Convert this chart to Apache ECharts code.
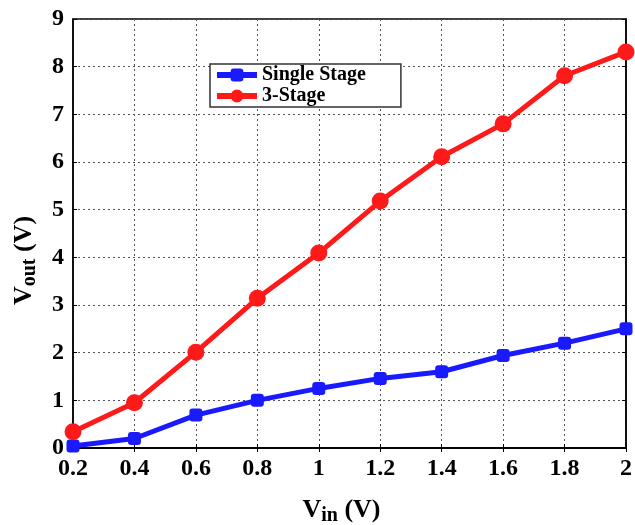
<!DOCTYPE html>
<html>
<head>
<meta charset="utf-8">
<script src="https://cdn.jsdelivr.net/npm/echarts@6/dist/echarts.min.js"></script>
<style>
  html, body { margin: 0; padding: 0; background: #fff; }
  #chart { width: 635px; height: 525px; }
</style>
</head>
<body>
<div id="chart"></div>
<script>
// Input voltage sweep (V)
const vin = ['0.2', '0.4', '0.6', '0.8', '1', '1.2', '1.4', '1.6', '1.8', '2'];
// Output voltage (V) for each converter
const singleStage = [0.04, 0.2, 0.69, 1.0, 1.25, 1.46, 1.6, 1.94, 2.2, 2.5];
const threeStage = [0.34, 0.95, 2.01, 3.14, 4.09, 5.18, 6.11, 6.8, 7.81, 8.31];
const yTicks = [0, 9, 1];

const serif = '"Liberation Serif", "DejaVu Serif", serif';
const tickFont = { fontFamily: serif, fontWeight: 'bold', fontSize: 24, color: '#000' };
const gridLine = { show: true, lineStyle: { type: [2, 3], color: '#555', width: 1 } };
const titleRich = {
  a: { fontFamily: serif, fontWeight: 'bold', fontSize: 26, color: '#000' },
  b: { fontFamily: serif, fontWeight: 'bold', fontSize: 20, color: '#000', padding: [12, 0, 0, 0] }
};

const chart = echarts.init(document.getElementById('chart'), null, { renderer: 'canvas' });
chart.setOption({
  animation: false,
  backgroundColor: '#fff',
  grid: {
    left: 73, right: 9, top: 19, bottom: 77,
    containLabel: false, outerBoundsMode: 'none',
    show: true, borderColor: '#000', borderWidth: 1.5
  },
  legend: {
    left: 210, top: 64,
    orient: 'vertical',
    itemWidth: 40, itemHeight: 16, itemGap: 1,
    padding: [1, 35, 1, 4],
    borderColor: '#333', borderWidth: 1.5,
    backgroundColor: '#fff',
    lineStyle: { width: 6 },
    textStyle: { fontFamily: serif, fontWeight: 'bold', fontSize: 20, color: '#000' },
    data: ['Single Stage', '3-Stage']
  },
  xAxis: [{
    type: 'category', data: vin, boundaryGap: false,
    axisLine: { lineStyle: { color: '#000', width: 1.5 } },
    axisTick: { inside: true, length: 4, lineStyle: { color: '#000' } },
    axisLabel: Object.assign({ margin: 9 }, tickFont),
    splitLine: gridLine,
    name: '{a|V}{b|in}{a| (V)}',
    nameLocation: 'middle', nameGap: 46,
    nameTextStyle: { rich: titleRich, padding: [0, 16, 0, 0] }
  }, {
    type: 'category', data: vin, boundaryGap: false, position: 'top',
    axisLine: { lineStyle: { color: '#000', width: 1.5 } },
    axisTick: { inside: true, length: 4, lineStyle: { color: '#000' } },
    axisLabel: { show: false }
  }],
  yAxis: [{
    type: 'value', min: yTicks[0], max: yTicks[1], interval: yTicks[2],
    axisLine: { show: true, lineStyle: { color: '#000', width: 1.5 } },
    axisTick: { show: true, inside: true, length: 4, lineStyle: { color: '#000' } },
    axisLabel: Object.assign({ margin: 9 }, tickFont),
    splitLine: gridLine,
    name: '{a|V}{b|out}{a| (V)}',
    nameLocation: 'middle', nameGap: 33, nameRotate: 90,
    nameTextStyle: { rich: titleRich, padding: [0, 54, 0, 0] }
  }, {
    type: 'value', min: yTicks[0], max: yTicks[1], interval: yTicks[2], position: 'right',
    axisLine: { show: true, lineStyle: { color: '#000', width: 1.5 } },
    axisTick: { show: true, inside: true, length: 4, lineStyle: { color: '#000' } },
    axisLabel: { show: false },
    splitLine: { show: false }
  }],
  series: [{
    name: 'Single Stage', type: 'line', data: singleStage,
    symbol: 'roundRect', symbolSize: 13,
    lineStyle: { color: '#1a1aff', width: 5 },
    itemStyle: { color: '#1a1aff' },
    z: 3
  }, {
    name: '3-Stage', type: 'line', data: threeStage,
    symbol: 'circle', symbolSize: 17,
    lineStyle: { color: '#ff1a1a', width: 5 },
    itemStyle: { color: '#ff1a1a' },
    z: 4
  }]
});
</script>
</body>
</html>
